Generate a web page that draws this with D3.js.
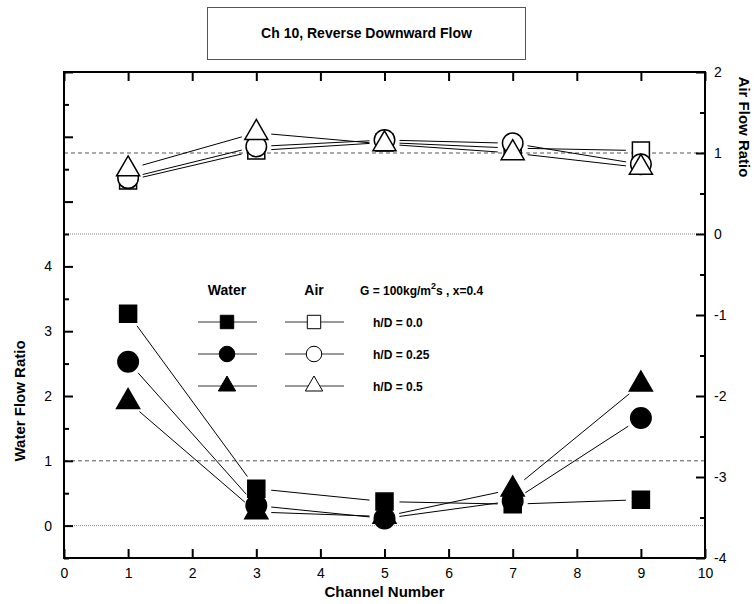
<!DOCTYPE html>
<html>
<head>
<meta charset="utf-8">
<script src="https://cdn.jsdelivr.net/npm/d3@7"></script>
<style>
  body { margin: 0; background: #fff; }
  text { font-family: "Liberation Sans", Arial, sans-serif; }
</style>
</head>
<body>
<script>
// channel numbers on the x axis
var channels = [1, 3, 5, 7, 9];

// water flow ratio (left axis), filled markers
var waterSquare = [3.27, 0.57, 0.37, 0.33, 0.40];
var waterCircle = [2.53, 0.31, 0.11, 0.38, 1.66];
var waterTriangle = [1.91, 0.21, 0.14, 0.56, 2.18];

// air flow ratio (right axis), open markers
var airSquare = [0.66, 1.03, 1.13, 1.06, 1.03];
var airCircle = [0.69, 1.08, 1.16, 1.12, 0.86];
var airTriangle = [0.80, 1.25, 1.11, 1.00, 0.82];

var legendLabels = ["h/D = 0.0", "h/D = 0.25", "h/D = 0.5"];
var xTicks = d3.range(0, 11);
var waterLabelTicks = [0, 1, 2, 3, 4];
var airTicks = [-4, -3, -2, -1, 0, 1, 2];

var width = 754;
var height = 604;
var plotL = 64, plotR = 705, plotT = 72, plotB = 558;

var svg = d3.select("body").append("svg")
    .attr("width", width)
    .attr("height", height);

var x = d3.scaleLinear().domain([0, 10]).range([plotL, plotR]);
var yWater = d3.scaleLinear().domain([-0.5, 7]).range([plotB, plotT]);
var yAir = d3.scaleLinear().domain([-4, 2]).range([plotB, plotT]);

// reference lines
function hline(y, dash, color) {
    svg.append("line")
        .attr("x1", plotL).attr("x2", plotR)
        .attr("y1", y).attr("y2", y)
        .attr("stroke", color)
        .attr("stroke-width", 1)
        .attr("stroke-dasharray", dash);
}
hline(yAir(1), "4,3", "#555");
hline(yAir(0), "1,1", "#888");
hline(yWater(1), "4,3", "#555");
hline(yWater(0), "1,1", "#888");

// axes
function styleAxis(g) {
    g.select(".domain").remove();
    g.selectAll(".tick line").attr("stroke", "#000").attr("stroke-width", 2);
    g.selectAll(".tick text").attr("font-size", 14).attr("fill", "#000")
        .style("font-family", "'Liberation Sans', Arial, sans-serif");
}

svg.append("g")
    .attr("transform", `translate(0,${plotB})`)
    .call(d3.axisBottom(x).tickValues(xTicks).tickSize(-9).tickPadding(10))
    .call(styleAxis);

svg.append("g")
    .attr("transform", `translate(0,${plotT})`)
    .call(d3.axisTop(x).tickValues(xTicks).tickSize(-9).tickFormat(""))
    .call(styleAxis);

svg.append("g")
    .attr("transform", `translate(${plotL},0)`)
    .call(d3.axisLeft(yWater).tickValues(d3.range(0, 8)).tickSize(-9).tickPadding(12)
        .tickFormat(d => waterLabelTicks.includes(d) ? d : ""))
    .call(styleAxis);

svg.append("g")
    .attr("transform", `translate(${plotL},0)`)
    .call(d3.axisLeft(yWater).tickValues(d3.range(-0.5, 7, 1)).tickSize(-5).tickFormat(""))
    .call(styleAxis);

svg.append("g")
    .attr("transform", `translate(${plotR},0)`)
    .call(d3.axisRight(yAir).tickValues(airTicks).tickSize(-9).tickPadding(9)
        .tickFormat(d => String(d)))
    .call(styleAxis);

svg.append("g")
    .attr("transform", `translate(${plotR},0)`)
    .call(d3.axisRight(yAir).tickValues(d3.range(-3.5, 2, 1)).tickSize(-5).tickFormat(""))
    .call(styleAxis);

// frame
svg.append("rect")
    .attr("x", plotL).attr("y", plotT)
    .attr("width", plotR - plotL).attr("height", plotB - plotT)
    .attr("fill", "none").attr("stroke", "#000").attr("stroke-width", 2);

// series
var symSquare = d3.symbol().type(d3.symbolSquare).size(289);
var symCircle = d3.symbol().type(d3.symbolCircle).size(330);
var symTriangle = d3.symbol().type(d3.symbolTriangle).size(230);

var series = [
    { values: waterSquare, y: yWater, sym: symSquare, fill: "#000" },
    { values: waterCircle, y: yWater, sym: symCircle, fill: "#000" },
    { values: waterTriangle, y: yWater, sym: symTriangle, fill: "#000" },
    { values: airSquare, y: yAir, sym: symSquare, fill: "#fff" },
    { values: airCircle, y: yAir, sym: symCircle, fill: "#fff" },
    { values: airTriangle, y: yAir, sym: symTriangle, fill: "#fff" }
];

var gap = 15;
series.forEach(function(s) {
    var pts = channels.map((c, i) => [x(c), s.y(s.values[i])]);
    var segs = d3.pairs(pts).map(function([a, b]) {
        var dx = b[0] - a[0], dy = b[1] - a[1];
        var len = Math.hypot(dx, dy);
        var ux = dx / len, uy = dy / len;
        return [a[0] + ux * gap, a[1] + uy * gap, b[0] - ux * gap, b[1] - uy * gap];
    });
    svg.append("g").selectAll("line")
        .data(segs)
        .join("line")
        .attr("x1", d => d[0]).attr("y1", d => d[1])
        .attr("x2", d => d[2]).attr("y2", d => d[3])
        .attr("stroke", "#000").attr("stroke-width", 1);
});

series.forEach(function(s) {
    svg.append("g").selectAll("path")
        .data(channels)
        .join("path")
        .attr("transform", (c, i) => `translate(${x(c)},${s.y(s.values[i])})`)
        .attr("d", s.sym)
        .attr("fill", s.fill)
        .attr("stroke", "#000")
        .attr("stroke-width", 1.5);
});

// legend
var legend = svg.append("g").attr("font-weight", "bold").attr("font-size", 12);
legend.append("text").attr("x", 227).attr("y", 295).attr("text-anchor", "middle")
    .attr("font-size", 14).text("Water");
legend.append("text").attr("x", 314).attr("y", 295).attr("text-anchor", "middle")
    .attr("font-size", 14).text("Air");
var gText = legend.append("text").attr("x", 360).attr("y", 295);
gText.append("tspan").text("G = 100kg/m");
gText.append("tspan").attr("dy", -6).attr("font-size", 9).text("2");
gText.append("tspan").attr("dy", 6).text("s , x=0.4");

var legSyms = [
    d3.symbol().type(d3.symbolSquare).size(180),
    d3.symbol().type(d3.symbolCircle).size(190),
    d3.symbol().type(d3.symbolTriangle).size(130)
];
var rowY = [322, 354, 386];
legendLabels.forEach(function(lab, i) {
    [[198, 257, 227, "#000"], [285, 344, 314, "#fff"]].forEach(function(c) {
        legend.append("line")
            .attr("x1", c[0]).attr("x2", c[1])
            .attr("y1", rowY[i]).attr("y2", rowY[i])
            .attr("stroke", "#333").attr("stroke-width", 1);
        legend.append("path")
            .attr("transform", `translate(${c[2]},${rowY[i]})`)
            .attr("d", legSyms[i])
            .attr("fill", c[3]).attr("stroke", "#000").attr("stroke-width", 1);
    });
    legend.append("text").attr("x", 373).attr("y", rowY[i] + 5).text(lab);
});

// title box
svg.append("rect")
    .attr("x", 207.5).attr("y", 7.5).attr("width", 318).attr("height", 52)
    .attr("fill", "#fff").attr("stroke", "#555").attr("stroke-width", 1);
svg.append("text")
    .attr("x", 366.5).attr("y", 38)
    .attr("text-anchor", "middle")
    .attr("font-weight", "bold").attr("font-size", 14)
    .text("Ch 10, Reverse Downward Flow");

// axis titles
svg.append("text")
    .attr("x", (plotL + plotR) / 2).attr("y", 597)
    .attr("text-anchor", "middle")
    .attr("font-weight", "bold").attr("font-size", 15)
    .text("Channel Number");

svg.append("text")
    .attr("transform", "translate(25,401) rotate(-90)")
    .attr("text-anchor", "middle")
    .attr("font-weight", "bold").attr("font-size", 15)
    .text("Water Flow Ratio");

svg.append("text")
    .attr("transform", "translate(739,127) rotate(90)")
    .attr("text-anchor", "middle")
    .attr("font-weight", "bold").attr("font-size", 15)
    .text("Air Flow Ratio");
</script>
</body>
</html>
